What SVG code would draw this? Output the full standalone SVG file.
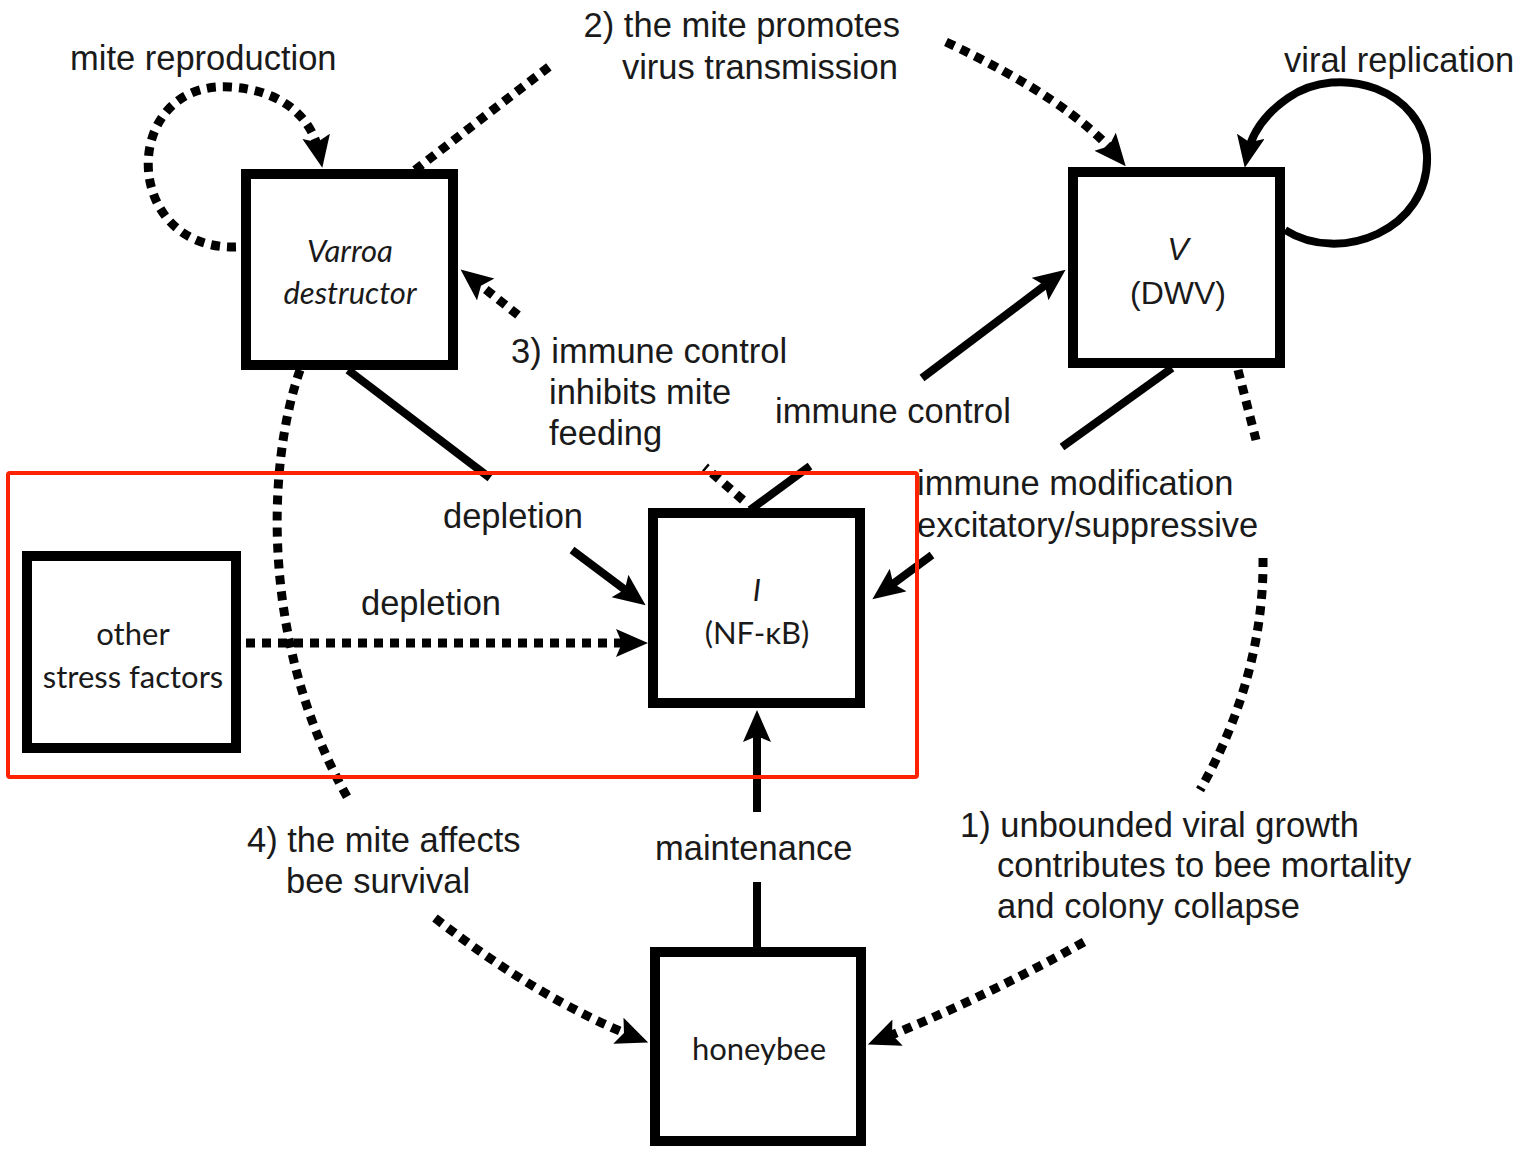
<svg xmlns="http://www.w3.org/2000/svg" width="1528" height="1152" viewBox="0 0 1528 1152">
<style>
.box{fill:#fff;stroke:#000;stroke-width:10}
.nl{font-family:Lato,"Open Sans",sans-serif;font-size:31px;fill:#1a1a1a;text-anchor:middle}
.hl{font-family:"Liberation Sans",Arial,sans-serif;font-size:32px;fill:#1a1a1a;text-anchor:middle}
.lb{font-family:"Liberation Sans",Arial,sans-serif;font-size:34.5px;fill:#1a1a1a}
.solid{fill:none;stroke:#000;stroke-width:8}
.dot{fill:none;stroke:#000;stroke-width:9;stroke-dasharray:9 7}
.hi{fill:none;stroke:#ff2200;stroke-width:4}
</style>
<defs>
<marker id="ah" markerUnits="userSpaceOnUse" markerWidth="34" markerHeight="30" refX="20" refY="14" orient="auto">
<path d="M0,0 L32,14 L0,28 L6,14 Z" fill="#000"/>
</marker>
</defs>
<rect width="1528" height="1152" fill="#fff"/>
<g id="connectors">
<path class="dot" d="M236 247 C120 250 120 80 230 87 C280 90 312 115 320 156" marker-end="url(#ah)"/>
<path class="dot" d="M415 170 L550 66"/>
<path class="dot" d="M946 42 Q1070 100 1118 157" marker-end="url(#ah)"/>
<path class="solid" d="M1285 230 C1340 265 1430 230 1427 155 C1424 90 1340 62 1288 98 C1262 116 1251 135 1247 156" marker-end="url(#ah)"/>
<path class="solid" d="M348 370 L490 478"/>
<path class="solid" d="M572 550 L636 598" marker-end="url(#ah)"/>
<path class="solid" d="M750 510 L810 466"/>
<path class="solid" d="M922 378 L1056 277" marker-end="url(#ah)"/>
<path class="solid" d="M1172 368 L1062 447"/>
<path class="solid" d="M932 555 L882 592" marker-end="url(#ah)"/>
<path class="dot" d="M743 500 L705 467"/>
<path class="dot" d="M518 315 L470 277" marker-end="url(#ah)"/>
<path class="dot" d="M246 643 L636 643" marker-end="url(#ah)"/>
<path class="solid" d="M757 947 L757 882"/>
<path class="solid" d="M757 812 L757 722" marker-end="url(#ah)"/>
<path class="dot" d="M300 370 C265 470 262 650 350 802"/>
<path class="dot" d="M435 918 Q540 1000 637 1038" marker-end="url(#ah)"/>
<path class="dot" d="M1238 370 L1256 440"/>
<path class="dot" d="M1263 558 C1264 640 1240 720 1200 790"/>
<path class="dot" d="M1084 942 Q980 1000 879 1040" marker-end="url(#ah)"/>
</g>
<g id="node-varroa">
<rect class="box" x="246" y="174" width="207" height="191"/>
<text class="nl" x="350" y="262" font-style="italic">Varroa</text>
<text class="nl" x="350" y="304" font-style="italic">destructor</text>
</g>
<g id="node-virus">
<rect class="box" x="1073" y="172" width="207" height="191"/>
<text class="hl" x="1178" y="260" font-style="italic">V</text>
<text class="hl" x="1178" y="304">(DWV)</text>
</g>
<g id="node-immune">
<rect class="box" x="653" y="513" width="207" height="190"/>
<text class="nl" x="757" y="601" font-style="italic">I</text>
<text class="nl" x="757" y="644">(NF-κB)</text>
</g>
<g id="node-stress">
<rect class="box" x="27" y="556" width="209" height="192"/>
<text class="nl" x="133" y="645">other</text>
<text class="nl" x="133" y="688">stress factors</text>
</g>
<g id="node-honeybee">
<rect class="box" x="655" y="952" width="206" height="189"/>
<text class="nl" x="759" y="1060">honeybee</text>
</g>
<g id="labels">
<text class="lb" x="900" y="37" text-anchor="end">2) the mite promotes</text>
<text class="lb" x="898" y="79" text-anchor="end">virus transmission</text>
<text class="lb" x="70" y="70">mite reproduction</text>
<text class="lb" x="1284" y="72">viral replication</text>
<text class="lb" x="511" y="363">3) immune control</text>
<text class="lb" x="549" y="404">inhibits mite</text>
<text class="lb" x="549" y="445">feeding</text>
<text class="lb" x="775" y="423">immune control</text>
<text class="lb" x="443" y="528">depletion</text>
<text class="lb" x="361" y="615">depletion</text>
<text class="lb" x="917" y="495">immune modification</text>
<text class="lb" x="917" y="537">excitatory/suppressive</text>
<text class="lb" x="655" y="860">maintenance</text>
<text class="lb" x="247" y="852">4) the mite affects</text>
<text class="lb" x="286" y="893">bee survival</text>
<text class="lb" x="960" y="837">1) unbounded viral growth</text>
<text class="lb" x="997" y="877">contributes to bee mortality</text>
<text class="lb" x="997" y="918">and colony collapse</text>
</g>
<rect class="hi" x="8" y="473" width="909" height="304" rx="2"/>
</svg>
